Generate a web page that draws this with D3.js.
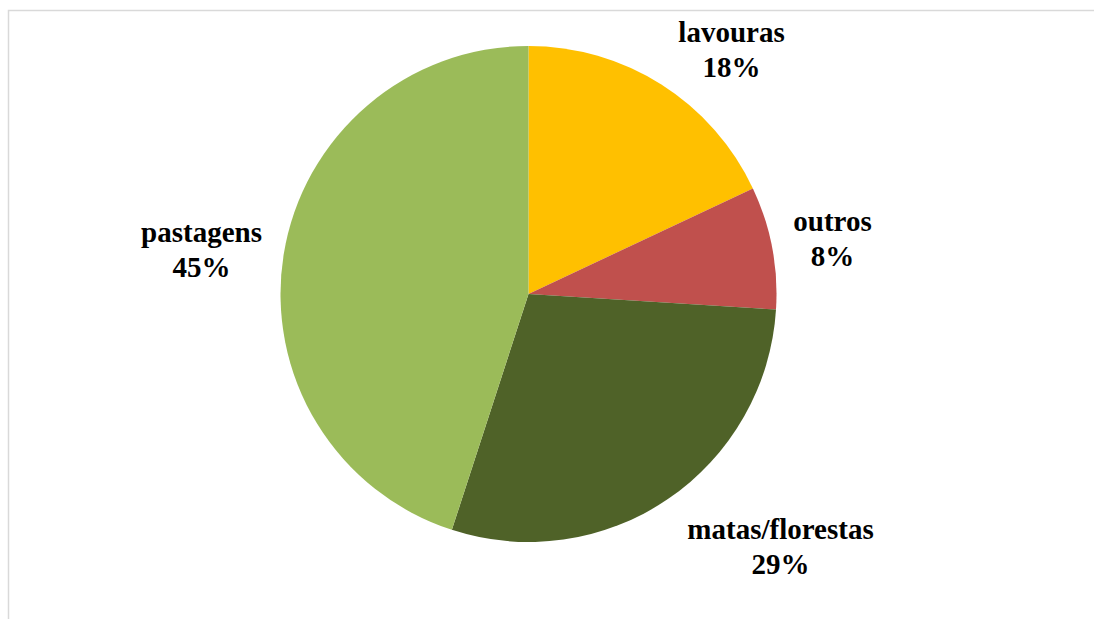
<!DOCTYPE html>
<html>
<head>
<meta charset="utf-8">
<script src="https://cdn.jsdelivr.net/npm/d3@7"></script>
<style>
  html, body { margin: 0; padding: 0; background: #fff; }
  svg { display: block; }
</style>
</head>
<body>
<div id="chart"></div>
<script>
// dados do gráfico (uso da terra)
const categories = ["lavouras", "outros", "matas/florestas", "pastagens"];
const shares = [18, 8, 29, 45];
const colors = ["#FFC000", "#C0504D", "#4F6228", "#9BBB59"];

// posição dos rótulos em relação ao centro da pizza (layout, não dados)
const labelOffsets = [[203, -252], [304, -63], [252, 245], [-327, -52]];

const width = 1094, height = 619;
const cx = 528.5, cy = 294, radius = 248;

const svg = d3.select("#chart").append("svg")
  .attr("width", width)
  .attr("height", height);

// moldura da área do gráfico
svg.append("rect")
  .attr("x", 8.5).attr("y", 10.5)
  .attr("width", width + 20).attr("height", height + 20)
  .attr("fill", "#fff")
  .attr("stroke", "#d9d9d9")
  .attr("stroke-width", 1.5);

const pie = d3.pie().sort(null).value(d => d);
const arc = d3.arc().innerRadius(0).outerRadius(radius);
const arcs = pie(shares);

const g = svg.append("g").attr("transform", `translate(${cx},${cy})`);

g.selectAll("path")
  .data(arcs)
  .enter().append("path")
  .attr("d", arc)
  .attr("fill", (d, i) => colors[i]);

// rótulos: categoria + percentual
const total = d3.sum(shares);
const labels = g.selectAll("text.lbl")
  .data(arcs)
  .enter().append("text")
  .attr("class", "lbl")
  .attr("text-anchor", "middle")
  .style("font-family", "'Liberation Serif', 'Times New Roman', serif")
  .style("font-weight", "bold")
  .style("font-size", "29px")
  .style("fill", "#000")
  .attr("transform", (d, i) => `translate(${labelOffsets[i][0]},${labelOffsets[i][1]})`);

labels.append("tspan")
  .attr("x", 0).attr("dy", 0)
  .text((d, i) => categories[i]);

labels.append("tspan")
  .attr("x", 0).attr("dy", 35)
  .text(d => d3.format(".0%")(d.value / total));
</script>
</body>
</html>
